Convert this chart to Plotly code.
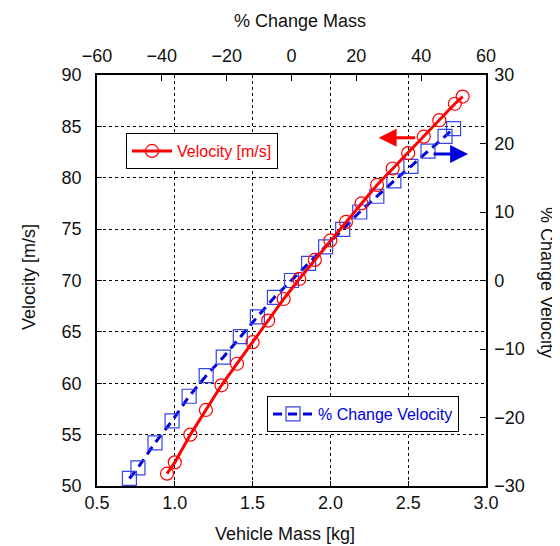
import plotly.graph_objects as go

# ---- data ----
mass_kg = [0.95, 1.0, 1.1, 1.2, 1.3, 1.4, 1.5, 1.6, 1.7, 1.8, 1.9,
           2.0, 2.1, 2.2, 2.3, 2.4, 2.5, 2.6, 2.7, 2.8, 2.85]
velocity_ms = [51.2, 52.3, 55.0, 57.4, 59.8, 61.9, 64.0, 66.1, 68.2, 70.15, 72.0,
               73.9, 75.7, 77.5, 79.3, 80.9, 82.4, 84.0, 85.6, 87.2, 87.9]

pct_change_mass = [-50, -47.37, -42.11, -36.84, -31.58, -26.32, -21.05, -15.79, -10.53, -5.26, 0,
                   5.26, 10.53, 15.79, 21.05, 26.32, 31.58, 36.84, 42.11, 47.37, 50]
pct_change_velocity = [-28.9, -27.35, -23.7, -20.5, -16.9, -13.9, -11.2, -8.2, -5.3, -2.45, 0,
                       2.5, 4.92, 7.45, 10.0, 12.3, 14.53, 16.67, 18.9, 21.04, 22.16]

FONT = "Liberation Sans, Arial, Helvetica, sans-serif"
RED = "#ff0000"
BLUE = "#0000dd"

# page body has an 8px margin, so the figure is drawn 8px in from the window corner
OFF = 8
L, T, R, B = 97 - OFF, 75 - OFF, 74, 60
W, H = 560 - OFF, 546 - OFF
PW, PH = W - L - R, H - T - B  # plot area size in px


def px_x(x_abs):
    return (x_abs - (L + OFF)) / PW


def px_y(y_abs):
    return ((T + OFF + PH) - y_abs) / PH


fig = go.Figure()

fig.add_trace(go.Scatter(
    x=pct_change_mass, y=pct_change_velocity, xaxis="x", yaxis="y",
    mode="lines+markers", name="% Change Velocity", legend="legend2",
    line=dict(color=BLUE, width=3, dash="9px,6px"),
    marker=dict(symbol="square-open", size=14, color="#3344ee", line=dict(width=1.2)),
))
fig.add_trace(go.Scatter(
    x=mass_kg, y=velocity_ms, xaxis="x2", yaxis="y2",
    mode="lines+markers", name="Velocity [m/s]", legend="legend",
    line=dict(color=RED, width=3),
    marker=dict(symbol="circle-open", size=13, color=RED, line=dict(width=1.2)),
))

axis_common = dict(showline=True, linecolor="black", linewidth=1.5,
                   ticks="inside", tickcolor="black",
                   tickfont=dict(family=FONT, size=18, color="#111111"),
                   zeroline=False)

fig.update_layout(
    width=W, height=H,
    margin=dict(l=L, r=R, t=T, b=B, pad=0),
    plot_bgcolor="white", paper_bgcolor="white",
    font=dict(family=FONT, size=18, color="#111111"),
    xaxis=dict(side="top", range=[-60, 60], dtick=20, anchor="y", ticklen=6,
               showgrid=False, ticklabelstandoff=4, **axis_common),
    yaxis=dict(side="right", range=[-30, 30], dtick=10, anchor="x", ticklen=6,
               showgrid=False, ticklabelstandoff=3, **axis_common),
    xaxis2=dict(side="bottom", overlaying="x", anchor="y2", range=[0.5, 3.0], dtick=0.5,
                tickformat=".1f", showgrid=True, gridcolor="black", gridwidth=1, ticklen=5,
                griddash="3px,3px", ticklabelstandoff=0, **axis_common),
    yaxis2=dict(side="left", overlaying="y", anchor="x2", range=[50, 90], dtick=5,
                showgrid=True, gridcolor="black", gridwidth=1, ticklen=5,
                griddash="3px,3px", ticklabelstandoff=10, **axis_common),
    legend=dict(x=px_x(126), y=px_y(133), xanchor="left", yanchor="top",
                bgcolor="white", bordercolor="black", borderwidth=1, itemwidth=40,
                font=dict(family=FONT, size=16, color=RED)),
    legend2=dict(x=px_x(267), y=px_y(396), xanchor="left", yanchor="top",
                 bgcolor="white", bordercolor="black", borderwidth=1, itemwidth=40,
                 font=dict(family=FONT, size=16, color=BLUE)),
    showlegend=True,
)

# axis titles
title_font = dict(family=FONT, size=18, color="#111111")
fig.add_annotation(text="Vehicle Mass [kg]", xref="paper", yref="paper",
                   x=px_x(285), y=px_y(534), showarrow=False,
                   xanchor="center", yanchor="middle", font=title_font)
fig.add_annotation(text="% Change Mass", xref="paper", yref="paper",
                   x=px_x(300), y=px_y(21), showarrow=False,
                   xanchor="center", yanchor="middle", font=title_font)
fig.add_annotation(text="Velocity [m/s]", xref="paper", yref="paper",
                   x=px_x(29), y=px_y(277), textangle=-90, showarrow=False,
                   xanchor="center", yanchor="middle", font=title_font)
fig.add_annotation(text="% Change Velocity", xref="paper", yref="paper",
                   x=px_x(547), y=px_y(282), textangle=90, showarrow=False,
                   xanchor="center", yanchor="middle", font=title_font)

# direction arrows
fig.add_annotation(x=2.31, y=83.9, xref="x2", yref="y2", ax=38, ay=0, text="",
                   showarrow=True, arrowhead=2, arrowsize=1.2, arrowwidth=3,
                   arrowcolor=RED, standoff=0)
fig.add_annotation(x=2.885, y=82.3, xref="x2", yref="y2", ax=-36, ay=0, text="",
                   showarrow=True, arrowhead=2, arrowsize=1.2, arrowwidth=3,
                   arrowcolor=BLUE, standoff=0)

fig.write_html("out.html")
